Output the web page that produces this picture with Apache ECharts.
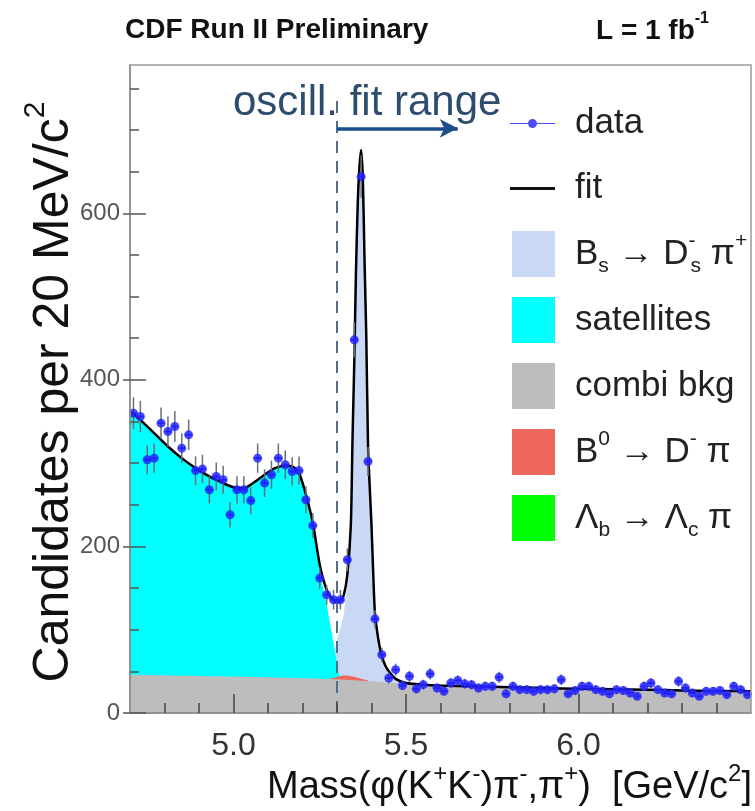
<!DOCTYPE html>
<html><head><meta charset="utf-8">
<script src="https://cdn.jsdelivr.net/npm/echarts@6/dist/echarts.min.js"></script>
<style>html,body{margin:0;padding:0;background:#fff}#c{width:755px;height:811px}</style>
</head><body><div id="c"></div>
<script>
// ---------- data ----------
const binStart = 4.70, binWidth = 0.02;
const dataCounts = [
  360, 356, 304, 306, 348, 338, 344, 318, 334, 291,
  293, 268, 284, 280, 238, 268, 268, 255, 306, 276,
  286, 306, 298, 290, 291, 256, 225, 162, 142, 136,
  136, 184, 448, 644, 302, 113, 70, 42, 52, 33,
  44, 29, 34, 47, 30, 26, 36, 39, 35, 34,
  30, 32, 32, 43, 23, 32, 28, 28, 26, 28,
  28, 29, 40, 23, 27, 32, 32, 28, 26, 23,
  28, 27, 24, 20, 32, 36, 28, 24, 23, 38,
  30, 24, 20, 26, 26, 27, 22, 32, 28, 22
];
const fitMass  = [4.70,4.73,4.77,4.81,4.85,4.89,4.93,4.97,5.00,5.03,5.06,5.09,5.12,5.15,5.17,5.19,5.21,5.23,5.25,5.27,5.29,5.30,5.31,5.32,5.33,5.34,5.345,5.35,5.355,5.36,5.365,5.37,5.375,5.38,5.385,5.39,5.395,5.40,5.405,5.41,5.42,5.43,5.44,5.45,5.47,5.50,5.55,5.60,5.70,5.80,5.90,6.00,6.10,6.20,6.30,6.40,6.50];
const fitValue = [362,352,336,320,306,294,284,276,271,270,277,286,294,297,296,288,262,228,178,148,135,133,134,142,166,225,330,420,530,610,655,676,640,540,450,320,270,225,168,120,88,68,57,50,41,36,34,33,32,31,30,29,28.5,28,27,26.5,26];
const bsMass  = [5.25,5.28,5.29,5.30,5.31,5.32,5.33,5.34,5.345,5.35,5.355,5.36,5.365,5.37,5.375,5.38,5.385,5.39,5.395,5.40,5.405,5.41,5.42,5.43,5.44,5.45,5.47,5.50,5.55,5.60];
const bsValue = [41,55,70,88,102,120,158,222,326,416,526,605,651,672,636,536,446,317,267,222,165,118,86,66,55,48,40,35.5,33.5,33];
const satMass  = [4.70,4.73,4.77,4.81,4.85,4.89,4.93,4.97,5.00,5.03,5.06,5.09,5.12,5.15,5.17,5.19,5.21,5.23,5.25,5.27,5.28,5.29,5.30,5.305,5.31,5.32];
const satValue = [361,351,335,319,305,293,283,275,270,269,276,285,293,296,295,287,260,224,170,130,108,84,60,48,42,41];
const bkgMass  = [4.70,4.90,5.10,5.30,5.40,5.50,5.60,5.80,6.00,6.20,6.40,6.50];
const bkgValue = [46,44.5,43,40.5,38,35,33,31,29,27.5,26,25.5];
const b0Mass  = [5.27,5.29,5.31,5.33,5.35,5.37,5.39];
const b0Value = [40.5,42,44.5,45,43.5,41,39];
const lbMass  = [5.40,5.50,5.60,5.70];
const lbValue = [10,14,12,6];
// ticks
const xLabelTicks = [5.0, 5.5, 6.0];
const xMinorTicks = [4.8,4.9,5.1,5.2,5.3,5.4,5.6,5.7,5.8,5.9,6.1,6.2,6.3,6.4];
const yLabelTicks = [0, 200, 400, 600];
const yMinorTicks = [50,100,150,250,300,350,450,500,550,650,700,750];
// annotation values
const fitRangeStart = 5.30, fitRangeArrowEnd = 5.65, arrowLevel = 702, dashTop = 742;

// ---------- chart ----------
const FONT = 'Liberation Sans, Arial, Helvetica, sans-serif';
const pairs = (xs, ys) => xs.map((x, i) => [x, ys[i]]);
const centers = dataCounts.map((_, i) => +(binStart + binWidth * (i + 0.5)).toFixed(3));
const pointData = dataCounts.map((v, i) => [centers[i], v]);
const errData = dataCounts.map((v, i) => [centers[i], v, Math.sqrt(v)]);

const colBs = '#c9d8f5', colSat = '#00ffff', colBkg = '#bdbdbd', colB0 = '#ee675c', colLb = '#00ff00';
const areaSeries = (name, xs, ys, color) => ({
  name, type: 'line', data: pairs(xs, ys), symbol: 'none', smooth: 0.25,
  lineStyle: { width: 0 }, itemStyle: { color }, areaStyle: { color, opacity: 1 },
  silent: true, z: 2
});

const legendRich = {
  n:  { fontSize: 35, fontFamily: FONT, color: '#222', lineHeight: 46 },
  sb: { fontSize: 21, fontFamily: FONT, color: '#222', verticalAlign: 'bottom' },
  sp: { fontSize: 21, fontFamily: FONT, color: '#222', verticalAlign: 'top' },
  spw:{ fontSize: 21, fontFamily: FONT, color: '#222', verticalAlign: 'top', width: 2 }
};
const legendLabels = {
  'data': '{n|data}',
  'fit': '{n|fit}',
  'Bs': '{n|B}{sb|s}{n| → D}{spw|-}{sb|s}{n| π}{sp|+}',
  'satellites': '{n|satellites}',
  'combi bkg': '{n|combi bkg}',
  'B0': '{n|B}{sp|0}{n| → D}{sp|-}{n| π}',
  'Lb': '{n|Λ}{sb|b}{n| → Λ}{sb|c}{n| π}'
};
const legendBase = {
  orient: 'vertical', padding: 0, selectedMode: false,
  formatter: name => legendLabels[name],
  textStyle: { fontSize: 35, fontFamily: FONT, color: '#222', padding: [0, 0, 0, 15], rich: legendRich }
};
const dataIcon = 'path://M0,4L18,4L18,5L0,5Z M27,4L45,4L45,5L27,5Z M18,4.5a4.5,4.5 0 1,0 9,0a4.5,4.5 0 1,0 -9,0Z';

const option = {
  animation: false,
  backgroundColor: '#fff',
  grid: { left: 130, top: 65, right: 4, bottom: 98, show: true, borderColor: '#9a9a9a', borderWidth: 1.5, backgroundColor: 'transparent', z: 10 },
  xAxis: [
    { type: 'value', min: 4.7, max: 6.5, interval: 0.1, z: 10,
      axisLine: { lineStyle: { color: '#8a8a8a', width: 1.5 } },
      axisTick: { inside: true, length: 19, customValues: xLabelTicks, lineStyle: { color: '#444', width: 1.5 } },
      axisLabel: { customValues: xLabelTicks, formatter: v => v.toFixed(1), fontSize: 32, fontFamily: FONT, color: '#333', margin: 17 },
      splitLine: { show: false } },
    { type: 'value', min: 4.7, max: 6.5, interval: 0.1, position: 'bottom', z: 10,
      axisLine: { show: false },
      axisTick: { inside: true, length: 10, customValues: xMinorTicks, lineStyle: { color: '#444', width: 1.5 } },
      axisLabel: { show: false }, splitLine: { show: false } }
  ],
  yAxis: [
    { type: 'value', min: 0, max: 778, interval: 200, z: 10,
      axisLine: { show: true, lineStyle: { color: '#8a8a8a', width: 1.5 } },
      axisTick: { show: true, inside: true, length: 16, customValues: yLabelTicks, lineStyle: { color: '#555', width: 1.5 } },
      axisLabel: { customValues: yLabelTicks, fontSize: 24, fontFamily: FONT, color: '#555', margin: 10 },
      splitLine: { show: false } },
    { type: 'value', min: 0, max: 778, interval: 200, position: 'left', z: 10,
      axisLine: { show: false },
      axisTick: { show: true, inside: false, length: 7, customValues: yLabelTicks, lineStyle: { color: '#555', width: 1.5 } },
      axisLabel: { show: false }, splitLine: { show: false } },
    { type: 'value', min: 0, max: 778, interval: 200, position: 'left', z: 10,
      axisLine: { show: false },
      axisTick: { show: true, inside: true, length: 9, customValues: yMinorTicks, lineStyle: { color: '#555', width: 1.5 } },
      axisLabel: { show: false }, splitLine: { show: false } }
  ],
  legend: [
    Object.assign({}, legendBase, { left: 510, top: 106, itemWidth: 45, itemHeight: 9,
      data: [{ name: 'data', icon: dataIcon, itemStyle: { color: '#1f1fff', borderWidth: 0 } }] }),
    Object.assign({}, legendBase, { left: 510, top: 171, itemWidth: 45, itemHeight: 3,
      data: [{ name: 'fit', icon: 'rect', itemStyle: { color: '#111', borderWidth: 0 } }] }),
    Object.assign({}, legendBase, { left: 512, top: 231, itemWidth: 43, itemHeight: 46, itemGap: 20,
      data: [
        { name: 'Bs', icon: 'rect', itemStyle: { color: colBs, borderWidth: 0 } },
        { name: 'satellites', icon: 'rect', itemStyle: { color: colSat, borderWidth: 0 } },
        { name: 'combi bkg', icon: 'rect', itemStyle: { color: colBkg, borderWidth: 0 } },
        { name: 'B0', icon: 'rect', itemStyle: { color: colB0, borderWidth: 0 } },
        { name: 'Lb', icon: 'rect', itemStyle: { color: colLb, borderWidth: 0 } }
      ] })
  ],
  graphic: [
    { type: 'text', left: 125, top: 16, style: { text: 'CDF Run II Preliminary', font: 'bold 28px ' + FONT, fill: '#111' } },
    { type: 'text', left: 596, top: 11, style: { text: '{m|L = 1 fb}{s|-1}', fill: '#111',
        rich: { m: { font: 'bold 28px ' + FONT, fill: '#111', lineHeight: 40 }, s: { font: 'bold 16px ' + FONT, fill: '#111', verticalAlign: 'top' } } } },
    { type: 'text', left: 233, top: 82, style: { text: 'oscill. fit range', font: '42px ' + FONT, fill: '#2d4c6e' } },
    { type: 'text', x: 54, y: 392, rotation: Math.PI / 2,
      style: { text: '{m|Candidates per 20 MeV/c}{s|2}', align: 'center', verticalAlign: 'middle',
        rich: { m: { fontSize: 50, fontFamily: FONT, fill: '#111', lineHeight: 66 }, s: { fontSize: 30, fontFamily: FONT, fill: '#111', verticalAlign: 'top' } } } },
    { type: 'text', x: 752, y: 788,
      style: { text: '{m|Mass(φ(K}{s|+}{m|K}{s|-}{m|)π}{s|-}{m|,π}{s|+}{m|)  [GeV/c}{s|2}{m|]}', align: 'right', verticalAlign: 'middle',
        rich: { m: { fontSize: 38, fontFamily: FONT, fill: '#111', lineHeight: 52 }, s: { fontSize: 24, fontFamily: FONT, fill: '#111', verticalAlign: 'top' } } } }
  ],
  series: [
    areaSeries('Bs', bsMass, bsValue, colBs),
    areaSeries('satellites', satMass, satValue, colSat),
    areaSeries('B0', b0Mass, b0Value, colB0),
    areaSeries('Lb', lbMass, lbValue, colLb),
    areaSeries('combi bkg', bkgMass, bkgValue, colBkg),
    { name: 'fit', type: 'line', data: pairs(fitMass, fitValue), symbol: 'none', smooth: 0.25, z: 3,
      color: '#000', itemStyle: { color: '#000' }, lineStyle: { color: '#000', width: 2.5 }, silent: true,
      markLine: { silent: true, symbol: ['none', 'none'], label: { show: false }, animation: false,
        data: [
          [ { coord: [fitRangeStart, 0], lineStyle: { color: '#4f6f8f', width: 2, type: [12, 8] } },
            { coord: [fitRangeStart, dashTop] } ],
          [ { coord: [fitRangeStart, arrowLevel], symbol: 'none', lineStyle: { color: '#1d4e8c', width: 3.5, type: 'solid' } },
            { coord: [fitRangeArrowEnd, arrowLevel], symbol: 'arrow', symbolSize: [14, 18] } ]
        ] } },
    { name: 'dataErr', type: 'custom', data: errData, z: 4, silent: true,
      renderItem: (params, api) => {
        const x = api.value(0), y = api.value(1), e = api.value(2);
        const c = api.coord([x, y]);
        const t = api.coord([x, y + e]);
        const b = api.coord([x, y - e]);
        const l = api.coord([x - binWidth / 2, y]);
        const r = api.coord([x + binWidth / 2, y]);
        return { type: 'group', children: [
          { type: 'line', shape: { x1: c[0], y1: t[1], x2: c[0], y2: b[1] }, style: { stroke: '#6a7078', lineWidth: 1.5 } },
          { type: 'line', shape: { x1: l[0], y1: c[1], x2: r[0], y2: c[1] }, style: { stroke: '#2a2aff', lineWidth: 2 } }
        ] };
      } },
    { name: 'data', type: 'scatter', data: pointData, symbol: 'circle', symbolSize: 9, z: 5, silent: true,
      itemStyle: { color: '#1f1fff' } }
  ]
};
echarts.init(document.getElementById('c')).setOption(option);
</script></body></html>
